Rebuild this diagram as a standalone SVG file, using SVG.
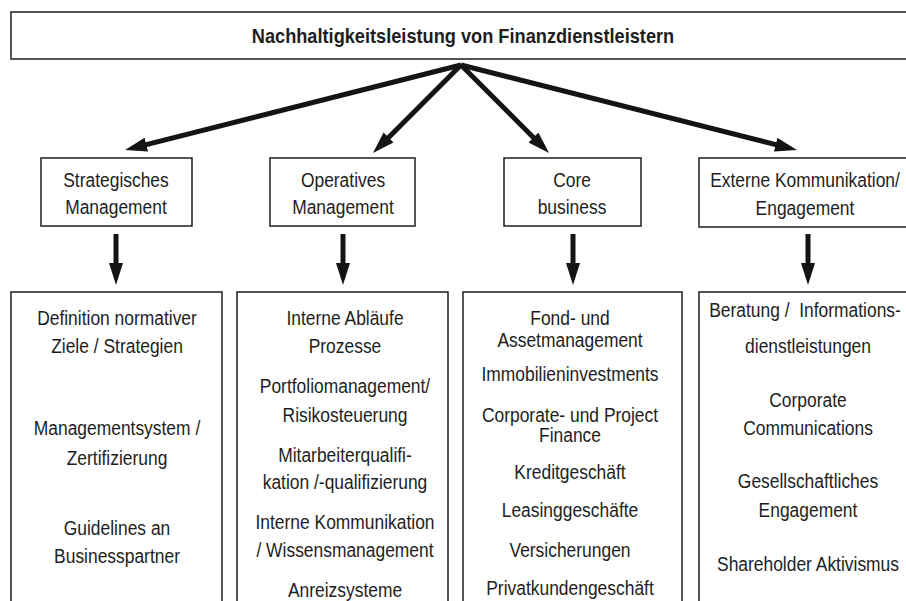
<svg xmlns="http://www.w3.org/2000/svg" width="906" height="601" viewBox="0 0 906 601">
<style>
.box{fill:#fff;stroke:#2b2b2b;stroke-width:1.6}
.t{font-family:"Liberation Sans",Arial,sans-serif;font-size:21px;fill:#1e1e1e;text-anchor:middle}
.title{font-weight:bold;font-size:20px}
.con{stroke:#141414;stroke-width:5;fill:none}
</style>
<defs>
<marker id="ah" markerUnits="userSpaceOnUse" markerWidth="24" markerHeight="16" refX="2" refY="7" orient="auto">
<path d="M0,0 L22,7 L0,14 z" fill="#141414"/>
</marker>
</defs>
<rect width="906" height="601" fill="#fff"/>
<g id="connectors">
<line class="con" x1="461" y1="65" x2="144.4" y2="145.1" marker-end="url(#ah)"/>
<line class="con" x1="461" y1="65" x2="387.1" y2="138.9" marker-end="url(#ah)"/>
<line class="con" x1="461" y1="65" x2="534.9" y2="138.9" marker-end="url(#ah)"/>
<line class="con" x1="461" y1="65" x2="777.6" y2="145.1" marker-end="url(#ah)"/>
<line class="con" x1="116" y1="234" x2="116" y2="265" marker-end="url(#ah)"/>
<line class="con" x1="343" y1="234" x2="343" y2="265" marker-end="url(#ah)"/>
<line class="con" x1="573" y1="234" x2="573" y2="265" marker-end="url(#ah)"/>
<line class="con" x1="808" y1="234" x2="808" y2="265" marker-end="url(#ah)"/>
</g>
<g id="root">
<rect class="box" x="11" y="12" width="900" height="47"/>
<g transform="translate(463,0) scale(0.91,1)">
<text class="t title" x="0" y="43">Nachhaltigkeitsleistung von Finanzdienstleistern</text>
</g>
</g>
<g id="strategisch">
<rect class="box" x="41" y="158" width="151" height="68"/>
<g transform="translate(116,0) scale(0.83,1)">
<text class="t" x="0" y="187">Strategisches</text>
<text class="t" x="0" y="214">Management</text>
</g>
</g>
<g id="operativ">
<rect class="box" x="270" y="158" width="145" height="68"/>
<g transform="translate(343,0) scale(0.83,1)">
<text class="t" x="0" y="187">Operatives</text>
<text class="t" x="0" y="214">Management</text>
</g>
</g>
<g id="core">
<rect class="box" x="504" y="158" width="137" height="68"/>
<g transform="translate(572,0) scale(0.83,1)">
<text class="t" x="0" y="187">Core</text>
<text class="t" x="0" y="214">business</text>
</g>
</g>
<g id="extern">
<rect class="box" x="699" y="158" width="212" height="69"/>
<g transform="translate(805,0) scale(0.83,1)">
<text class="t" x="0" y="187">Externe Kommunikation/</text>
<text class="t" x="0" y="215">Engagement</text>
</g>
</g>
<g id="liste-strategisch">
<rect class="box" x="11" y="292" width="211" height="320"/>
<g transform="translate(117,0) scale(0.83,1)">
<text class="t" x="0" y="325">Definition normativer</text>
<text class="t" x="0" y="352.7">Ziele / Strategien</text>
<text class="t" x="0" y="435">Managementsystem /</text>
<text class="t" x="0" y="465">Zertifizierung</text>
<text class="t" x="0" y="535">Guidelines an</text>
<text class="t" x="0" y="562.7">Businesspartner</text>
</g>
</g>
<g id="liste-operativ">
<rect class="box" x="237" y="292" width="211" height="320"/>
<g transform="translate(345,0) scale(0.83,1)">
<text class="t" x="0" y="325">Interne Abläufe</text>
<text class="t" x="0" y="352.7">Prozesse</text>
<text class="t" x="0" y="393.3">Portfoliomanagement/</text>
<text class="t" x="0" y="421.7">Risikosteuerung</text>
<text class="t" x="0" y="461.7">Mitarbeiterqualifi-</text>
<text class="t" x="0" y="489.3">kation /-qualifizierung</text>
<text class="t" x="0" y="529.3">Interne Kommunikation</text>
<text class="t" x="0" y="556.7">/ Wissensmanagement</text>
<text class="t" x="0" y="597.3">Anreizsysteme</text>
</g>
</g>
<g id="liste-core">
<rect class="box" x="463" y="292" width="219" height="320"/>
<g transform="translate(570,0) scale(0.83,1)">
<text class="t" x="0" y="325">Fond- und</text>
<text class="t" x="0" y="346.7">Assetmanagement</text>
<text class="t" x="0" y="380.7">Immobilieninvestments</text>
<text class="t" x="0" y="421.7">Corporate- und Project</text>
<text class="t" x="0" y="442.3">Finance</text>
<text class="t" x="0" y="479">Kreditgeschäft</text>
<text class="t" x="0" y="517.3">Leasinggeschäfte</text>
<text class="t" x="0" y="557.3">Versicherungen</text>
<text class="t" x="0" y="595">Privatkundengeschäft</text>
</g>
</g>
<g id="liste-extern">
<rect class="box" x="699" y="292" width="212" height="320"/>
<g transform="translate(808,0) scale(0.83,1)">
<text class="t" x="-3.6" y="316.7" xml:space="preserve">Beratung /  Informations-</text>
<text class="t" x="0" y="352.7">dienstleistungen</text>
<text class="t" x="0" y="406.7">Corporate</text>
<text class="t" x="0" y="435">Communications</text>
<text class="t" x="0" y="488.3">Gesellschaftliches</text>
<text class="t" x="0" y="516.7">Engagement</text>
<text class="t" x="0" y="570.7">Shareholder Aktivismus</text>
</g>
</g>
</svg>
